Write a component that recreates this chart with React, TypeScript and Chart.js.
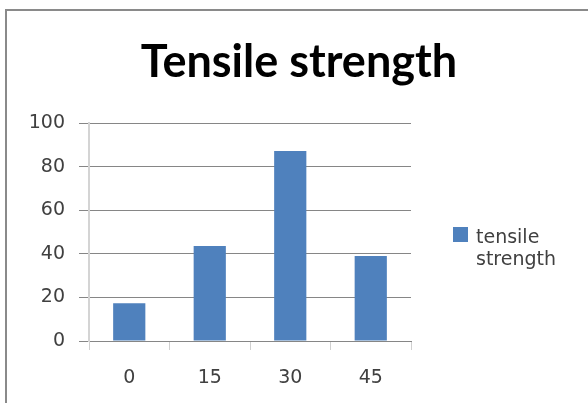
import React, { useEffect, useRef } from "react";
import { Chart, registerables } from "chart.js";

Chart.register(...registerables);

const categories = ["0", "15", "30", "45"];
const tensileStrength = [17.3, 43.6, 87.2, 39.0];
const seriesLabel = "tensile strength";
const chartTitle = "Tensile strength";
const yMin = 0;
const yMax = 100;
const yStep = 20;

const W = 588;
const H = 403;

const titlePlugin = {
  id: "customTitle",
  afterDraw(chart: any) {
    const ctx = chart.ctx;
    ctx.save();
    ctx.font = "bold 45px Lato";
    ctx.fillStyle = "#000000";
    ctx.textAlign = "center";
    ctx.textBaseline = "alphabetic";
    ctx.fillText(chartTitle, 299, 77);
    ctx.restore();
  },
};

const legendPlugin = {
  id: "customLegend",
  afterDraw(chart: any) {
    const ctx = chart.ctx;
    const ds = chart.data.datasets[0];
    ctx.save();
    ctx.fillStyle = ds.backgroundColor;
    ctx.fillRect(453, 227, 15, 15);
    ctx.font = "19px 'DejaVu Sans'";
    ctx.fillStyle = "#404040";
    ctx.textAlign = "left";
    ctx.textBaseline = "alphabetic";
    const lines = String(ds.label).split(" ");
    lines.forEach((l: string, i: number) => {
      ctx.fillText(l, 476, 243 + i * 22);
    });
    ctx.restore();
  },
};

export default function App() {
  const ref = useRef<HTMLCanvasElement | null>(null);

  useEffect(() => {
    if (!ref.current) return;
    const chart = new Chart(ref.current, {
      type: "bar",
      data: {
        labels: categories,
        datasets: [
          {
            label: seriesLabel,
            data: tensileStrength,
            backgroundColor: "#4F81BD",
            borderWidth: 0,
            barPercentage: 0.4,
            categoryPercentage: 1,
          },
        ],
      },
      options: {
        responsive: false,
        animation: false,
        layout: { padding: { left: 0, top: 123, right: 177, bottom: 0 } },
        plugins: {
          legend: { display: false },
          title: { display: false },
          tooltip: { enabled: false },
        },
        scales: {
          x: {
            grid: {
              offset: true,
              drawOnChartArea: false,
              drawTicks: true,
              tickLength: 9,
              color: "#d0d0d0",
              lineWidth: 1,
            },
            border: { display: true, color: "#868686", width: 1 },
            ticks: {
              font: { family: "DejaVu Sans", size: 19 },
              color: "#404040",
              padding: 17,
              maxRotation: 0,
            },
            afterFit: (s: any) => {
              s.height = H - 341;
            },
          },
          y: {
            min: yMin,
            max: yMax,
            grid: {
              color: "#868686",
              lineWidth: 1,
              drawTicks: true,
              tickLength: 10,
            },
            border: { display: true, color: "#d4d4d4", width: 2 },
            ticks: {
              stepSize: yStep,
              font: { family: "DejaVu Sans", size: 19 },
              color: "#404040",
              padding: 14,
            },
            afterFit: (s: any) => {
              s.width = 89;
            },
          },
        },
      },
      plugins: [titlePlugin, legendPlugin],
    });
    return () => chart.destroy();
  }, []);

  return (
    <div
      style={{
        position: "absolute",
        left: 0,
        top: 0,
        width: W,
        height: H,
        overflow: "hidden",
        background: "#ffffff",
      }}
    >
      <div
        style={{
          position: "absolute",
          left: 5,
          top: 9,
          width: W,
          height: H,
          borderTop: "2px solid #8a8a8a",
          borderLeft: "2px solid #8a8a8a",
        }}
      />
      <canvas
        ref={ref}
        width={W}
        height={H}
        style={{ position: "absolute", left: 0, top: 0, width: W, height: H }}
      />
    </div>
  );
}
